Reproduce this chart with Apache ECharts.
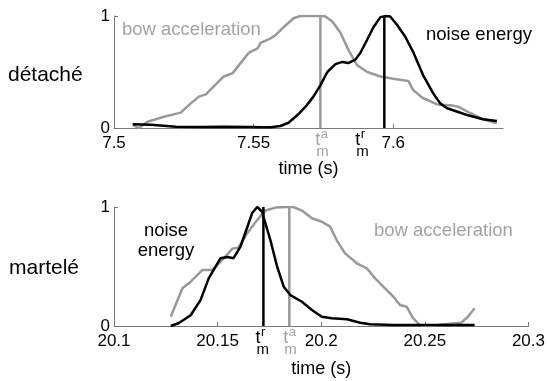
<!DOCTYPE html>
<html><head><meta charset="utf-8">
<script src="https://cdn.jsdelivr.net/npm/echarts@6/dist/echarts.min.js"></script>
<style>html,body{margin:0;padding:0;background:#fff}#c{width:548px;height:381px}</style>
</head><body><div id="c"></div>
<script>
// ---- détaché panel ----
const detTimeBow = [7.5067,7.5089,7.5120,7.5179,7.5239,7.5275,7.5304,7.5329,7.5393,7.5425,7.5482,7.5514,7.5525,7.5561,7.5579,7.5607,7.5643,7.5668,7.5739,7.5757,7.5782,7.5811,7.5839,7.5871,7.5907,7.5954,7.6,7.6054,7.6071,7.6104,7.6157,7.6214,7.6232,7.6275,7.6321,7.6371];
const detBow = [0.027,0,0.056,0.10,0.137,0.22,0.28,0.30,0.46,0.49,0.67,0.71,0.76,0.80,0.83,0.90,0.98,1,1,0.995,0.95,0.85,0.70,0.56,0.50,0.46,0.44,0.42,0.34,0.27,0.21,0.20,0.19,0.134,0.08,0.042];
const detTimeNoise = [7.5067,7.5132,7.5221,7.5304,7.5393,7.5489,7.5525,7.5561,7.5596,7.5625,7.5657,7.5686,7.5714,7.5739,7.5764,7.5793,7.5818,7.5839,7.5864,7.5882,7.5907,7.5929,7.5954,7.5975,7.5989,7.6014,7.6043,7.6071,7.6107,7.6121,7.6143,7.6168,7.6193,7.6264,7.6321,7.6371];
const detNoise = [0.033,0.028,0.012,0.010,0.012,0.010,0.006,0.006,0.018,0.047,0.116,0.19,0.28,0.38,0.50,0.57,0.59,0.58,0.61,0.67,0.79,0.90,0.99,1.0,0.995,0.92,0.815,0.68,0.47,0.41,0.31,0.22,0.176,0.116,0.078,0.062];
const detTmA = 7.5739;
const detTmR = 7.5968;
const detTicks = {min: 7.5, max: 7.6393, interval: 0.05};

// ---- martelé panel ----
const marTimeBow = [20.1274,20.1330,20.1370,20.1426,20.1475,20.1523,20.1571,20.1601,20.1643,20.1691,20.1731,20.1779,20.1835,20.1865,20.1907,20.1955,20.2003,20.2043,20.2075,20.2115,20.2172,20.2220,20.2260,20.2308,20.2348,20.2380,20.2412,20.2444,20.2476,20.2495,20.2524,20.2604,20.2676,20.2708,20.2740];
const marBow = [0.078,0.317,0.372,0.47,0.47,0.555,0.65,0.66,0.78,0.89,0.97,0.995,1.0,1.0,0.97,0.905,0.876,0.835,0.72,0.61,0.527,0.485,0.40,0.317,0.246,0.176,0.162,0.065,0.008,0,0,0.017,0.028,0.078,0.149];
const marTimeNoise = [20.1274,20.1313,20.1370,20.1418,20.1457,20.1514,20.1547,20.1577,20.1611,20.1643,20.1667,20.1691,20.1715,20.1721,20.1755,20.1787,20.1819,20.1851,20.1907,20.1955,20.2003,20.2051,20.2124,20.2188,20.2236,20.2346,20.2508,20.2740];
const marNoise = [0,0.025,0.09,0.22,0.40,0.57,0.58,0.57,0.67,0.83,0.95,1.0,0.96,0.92,0.72,0.50,0.33,0.26,0.204,0.134,0.078,0.065,0.056,0.028,0.014,0.008,0.008,0.008];
const marTmR = 20.1721;
const marTmA = 20.1846;
const marTicks = {min: 20.1, max: 20.3, interval: 0.05};

const yTicks = {min: 0, max: 1, interval: 1};

const FONT = '"Liberation Sans", Arial, Helvetica, sans-serif';
const BLACK = '#000';
const GRAY = '#999';
const GRAYTXT = '#a3a3a3';
const AXIS = '#7a7a7a';

const zip = (t, v) => t.map((x, i) => [x, v[i]]);
const fmt = v => String(+v.toFixed(3));

function xAx(idx, r, showMax, gap) {
  return {
    type: 'value', gridIndex: idx, min: r.min, max: r.max, interval: r.interval,
    name: 'time (s)', nameLocation: 'middle', nameGap: gap,
    nameTextStyle: {fontFamily: FONT, fontSize: 18, color: '#000'},
    axisLine: {onZero: false, lineStyle: {color: AXIS, width: 1}},
    axisTick: {inside: true, length: 4, lineStyle: {color: AXIS}},
    axisLabel: {fontFamily: FONT, fontSize: 17, color: '#000', margin: 7, formatter: fmt, showMaxLabel: showMax, showMinLabel: true},
    splitLine: {show: false}
  };
}
function yAx(idx) {
  return {
    type: 'value', gridIndex: idx, min: yTicks.min, max: yTicks.max, interval: yTicks.interval,
    axisLine: {show: true, lineStyle: {color: AXIS, width: 1}},
    axisTick: {show: true, inside: true, length: 4, lineStyle: {color: AXIS}},
    axisLabel: {fontFamily: FONT, fontSize: 17, color: '#000', margin: 4},
    splitLine: {show: false}
  };
}
function line(xi, data, color, z) {
  return {type: 'line', xAxisIndex: xi, yAxisIndex: xi, data, symbol: 'none', smooth: false,
    lineStyle: {color, width: 2.5}, itemStyle: {color}, z, silent: true, animation: false};
}

const chart = echarts.init(document.getElementById('c'), null, {renderer: 'canvas'});
chart.setOption({
  animation: false,
  backgroundColor: '#fff',
  grid: [
    {left: 114, top: 16, width: 389, height: 112},
    {left: 114, top: 207, width: 415, height: 119}
  ],
  xAxis: [xAx(0, detTicks, false, 32), xAx(1, marTicks, true, 34)],
  yAxis: [yAx(0), yAx(1)],
  series: [
    line(0, zip(detTimeBow, detBow), GRAY, 2),
    line(0, [[detTmA, 0], [detTmA, 1]], GRAY, 3),
    line(0, zip(detTimeNoise, detNoise), BLACK, 4),
    line(0, [[detTmR, 0], [detTmR, 1]], BLACK, 5),
    line(1, zip(marTimeBow, marBow), GRAY, 2),
    line(1, [[marTmA, 0], [marTmA, 1]], GRAY, 3),
    line(1, zip(marTimeNoise, marNoise), BLACK, 4),
    line(1, [[marTmR, 0], [marTmR, 1]], BLACK, 5)
  ]
});

function txt(text, x, baseline, size, color, align) {
  return {type: 'text', silent: true, z: 10, style: {text, x, y: baseline - 0.35 * size, fontSize: size, fontFamily: FONT,
    fill: color, align: align || 'left', verticalAlign: 'middle'}};
}
function tm(gi, t, sup, color, shift) {
  const p = chart.convertToPixel({xAxisIndex: gi, yAxisIndex: gi}, [t, 0]);
  const L = p[0] + shift;
  const base = p[1];
  return [
    txt('t', L, base + 18, 18, color),
    txt(sup, L + 5.5, base + 11, 13, color),
    txt('m', L + 1, base + 29, 15, color)
  ];
}

const g = [
  txt('détaché', 8, 83, 21, '#000'),
  txt('martelé', 9, 276, 21, '#000'),
  txt('bow acceleration', 122, 36, 18.5, GRAYTXT),
  txt('noise energy', 426, 41.5, 18.5, '#000'),
  txt('noise', 166, 237, 18.5, '#000', 'center'),
  txt('energy', 166, 257, 18.5, '#000', 'center'),
  txt('bow acceleration', 374, 237, 18.5, GRAYTXT)
].concat(tm(0, detTmA, 'a', GRAYTXT, -5))
 .concat(tm(0, detTmR, 'r', '#000', -29))
 .concat(tm(1, marTmR, 'r', '#000', -8))
 .concat(tm(1, marTmA, 'a', GRAYTXT, -6));

chart.setOption({graphic: {elements: g}});
</script>
</body></html>
